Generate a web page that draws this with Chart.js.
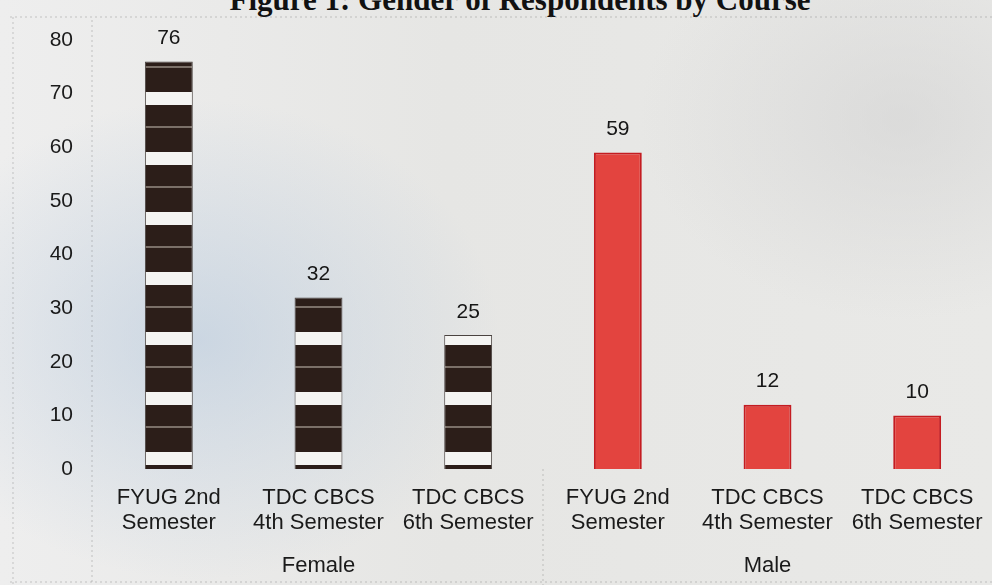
<!DOCTYPE html>
<html>
<head>
<meta charset="utf-8">
<script src="https://cdn.jsdelivr.net/npm/chart.js@4.4.0/dist/chart.umd.min.js"></script>
<style>
    html, body { margin: 0; padding: 0; }
    body {
        width: 992px;
        height: 585px;
        overflow: hidden;
        position: relative;
        background:
            radial-gradient(ellipse 300px 240px at 200px 340px, rgba(178, 198, 220, 0.55), rgba(178, 198, 220, 0) 100%),
            radial-gradient(ellipse 260px 200px at 900px 120px, rgba(210, 210, 210, 0.6), rgba(210, 210, 210, 0) 100%),
            linear-gradient(90deg, #eeeeee 0, #e6e6e4 45%, #e9e9e7 100%);
    }
    #title {
        position: absolute;
        top: -18px;
        left: 0;
        width: 1040px;
        text-align: center;
        font: bold 31px "Liberation Serif", "Times New Roman", serif;
        color: #111;
        white-space: nowrap;
    }
    #myChart { position: absolute; left: 0; top: 0; }
</style>
</head>
<body>
<div id="title">Figure 1: Gender of Respondents by Course</div>
<canvas id="myChart" width="992" height="585"></canvas>
<script>
Chart.defaults.font.family = '"Liberation Sans", Arial, sans-serif';
Chart.defaults.color = '#1a1a1a';

const categories = [
    ['FYUG 2nd', 'Semester'],
    ['TDC CBCS', '4th Semester'],
    ['TDC CBCS', '6th Semester'],
    ['FYUG 2nd', 'Semester'],
    ['TDC CBCS', '4th Semester'],
    ['TDC CBCS', '6th Semester'],
];
const groups = ['Female', 'Male'];
const femaleCounts = [76, 32, 25];
const maleCounts = [59, 12, 10];
const yTicks = [0, 10, 20, 30, 40, 50, 60, 70, 80];

// brick-like fill for the female bars
const tile = document.createElement('canvas');
tile.width = 8;
tile.height = 60;
const tctx = tile.getContext('2d');
tctx.fillStyle = '#f4f4f2';
tctx.fillRect(0, 0, 8, 60);
tctx.fillStyle = '#2c1e19';
tctx.fillRect(0, 0, 8, 47);
tctx.fillStyle = 'rgba(190, 180, 170, 0.55)';
tctx.fillRect(0, 21, 8, 2);
const femalePattern = tctx.createPattern(tile, 'repeat');

// keep the pattern anchored to the zero line
const patternAnchor = {
    id: 'patternAnchor',
    beforeDatasetsDraw(chart) {
        const bottom = chart.scales.y.getPixelForValue(0);
        femalePattern.setTransform(new DOMMatrix().translate(0, bottom - 4));
    },
};

// faint dotted frame lines like the printed chart
const frameLines = {
    id: 'frameLines',
    beforeDraw(chart) {
        const { ctx, chartArea } = chart;
        const x = chart.scales.x;
        const mid = (x.getPixelForValue(2) + x.getPixelForValue(3)) / 2;
        ctx.save();
        ctx.strokeStyle = 'rgba(110, 110, 110, 0.35)';
        ctx.lineWidth = 1;
        ctx.setLineDash([2, 3]);
        ctx.beginPath();
        ctx.moveTo(10, 17); ctx.lineTo(992, 17);
        ctx.moveTo(13, 17); ctx.lineTo(13, 585);
        ctx.moveTo(chartArea.left - 2, 20); ctx.lineTo(chartArea.left - 2, 585);
        ctx.moveTo(mid, chartArea.bottom); ctx.lineTo(mid, 585);
        ctx.moveTo(10, 582); ctx.lineTo(992, 582);
        ctx.stroke();
        ctx.restore();
    },
};

const valueLabels = {
    id: 'valueLabels',
    afterDatasetsDraw(chart) {
        const ctx = chart.ctx;
        ctx.save();
        ctx.font = '21px "Liberation Sans", Arial, sans-serif';
        ctx.fillStyle = '#161616';
        ctx.textAlign = 'center';
        ctx.textBaseline = 'middle';
        chart.data.datasets.forEach((ds, i) => {
            chart.getDatasetMeta(i).data.forEach((bar, j) => {
                const v = ds.data[j];
                if (v == null) return;
                ctx.fillText(String(v), bar.x, bar.y - 23);
            });
        });
        ctx.restore();
    },
};

// fixed axis boxes, no label overhang padding
const fixHeight = (h) => (axis) => {
    axis.height = h;
    axis.paddingLeft = 0;
    axis.paddingRight = 0;
};

const myChartCanvas = document.querySelector('#myChart');

const myChart = new Chart(myChartCanvas, {
    type: 'bar',
    data: {
        labels: categories,
        datasets: [
            {
                label: groups[0],
                data: [...femaleCounts, null, null, null],
                backgroundColor: femalePattern,
                borderColor: '#4a4340',
                borderWidth: 1,
                grouped: false,
                barPercentage: 0.32,
                categoryPercentage: 1,
            },
            {
                label: groups[1],
                data: [null, null, null, ...maleCounts],
                backgroundColor: '#e3443f',
                borderColor: '#c41c21',
                borderWidth: 2,
                grouped: false,
                barPercentage: 0.32,
                categoryPercentage: 1,
            },
        ],
    },
    options: {
        responsive: false,
        animation: false,
        layout: {
            padding: { top: 40, left: 29, right: 0, bottom: 4 },
        },
        plugins: {
            legend: { display: false },
            tooltip: { enabled: false },
        },
        scales: {
            x: {
                grid: { display: false, drawTicks: false },
                border: { display: false },
                afterFit: fixHeight(62),
                ticks: {
                    autoSkip: false,
                    maxRotation: 0,
                    padding: 16,
                    font: { size: 22, lineHeight: '25px' },
                    color: '#1a1a1a',
                },
            },
            x2: {
                type: 'category',
                labels: groups,
                position: 'bottom',
                offset: true,
                grid: { display: false, drawTicks: false },
                border: { display: false },
                afterFit: fixHeight(50),
                ticks: {
                    padding: 22,
                    font: { size: 22, lineHeight: '25px' },
                    color: '#1a1a1a',
                },
            },
            y: {
                min: 0,
                max: 80,
                afterBuildTicks: (axis) => {
                    axis.ticks = yTicks.map((v) => ({ value: v }));
                },
                afterFit: (axis) => {
                    axis.width = 65;
                    axis.paddingTop = 0;
                    axis.paddingBottom = 0;
                },
                grid: { display: false, drawTicks: false },
                border: { display: false },
                ticks: {
                    padding: 21,
                    font: { size: 21 },
                    color: '#1a1a1a',
                },
            },
        },
    },
    plugins: [patternAnchor, frameLines, valueLabels],
});
</script>
</body>
</html>
